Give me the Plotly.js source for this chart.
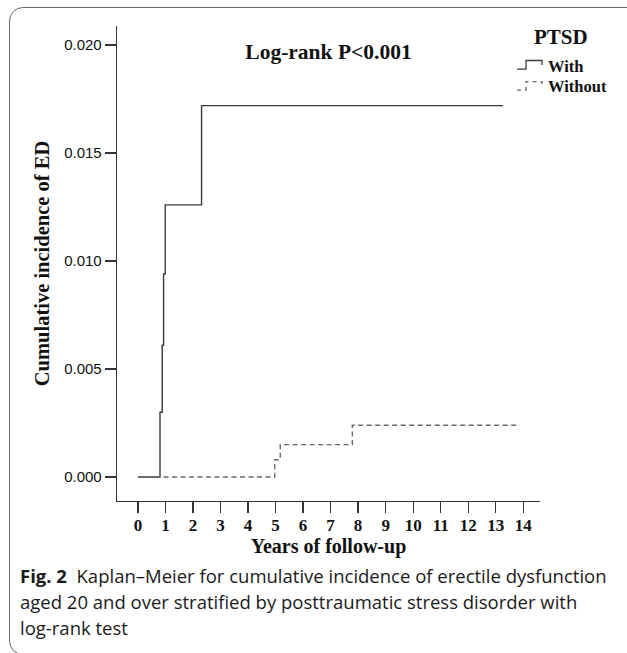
<!DOCTYPE html>
<html>
<head>
<meta charset="utf-8">
<script src="https://cdn.plot.ly/plotly-3.0.1.min.js"></script>
<style>
  html, body { margin: 0; padding: 0; background: #fff; }
  #wrap { position: relative; width: 627px; height: 653px; overflow: hidden; background: #fff; }
  #frame { position: absolute; left: 9px; top: 7px; width: 680px; height: 648px;
           border: 1.5px solid #666; border-radius: 14px; box-sizing: border-box; }
  #chart { position: absolute; left: 0; top: 0; width: 627px; height: 653px; }
</style>
</head>
<body>
<div id="wrap">
  <div id="frame"></div>
  <div id="chart"></div>
</div>
<script>
// ---- data ----
const withTime = [0, 0.80, 0.88, 0.93, 0.99, 2.31, 13.26];
const withInc  = [0, 0.0030, 0.0061, 0.0094, 0.0126, 0.0172, 0.0172];
const withoutTime = [0, 4.97, 5.17, 7.79, 13.88];
const withoutInc  = [0, 0.0008, 0.0015, 0.0024, 0.0024];
const xTicks = [0,1,2,3,4,5,6,7,8,9,10,11,12,13,14];
const yTicks = [0, 0.005, 0.010, 0.015, 0.020];
const seriesNames = ["With", "Without"];
const legendTitle = "PTSD";
const plotTitle = "Log-rank P<0.001";
const xTitle = "Years of follow-up";
const yTitle = "Cumulative incidence of ED";
const captionLines = [
  "<b>Fig. 2</b>  Kaplan–Meier for cumulative incidence of erectile dysfunction",
  "aged 20 and over stratified by posttraumatic stress disorder with",
  "log-rank test"
];

// ---- layout helpers (pixel -> paper) ----
const L = 117, R = 540, T = 26, B = 500.7;
const W = 627, H = 653;
const px = v => (v - L) / (R - L);
const py = v => (B - v) / (B - T);

const serif = "Liberation Serif, Times New Roman, serif";
const sans = "Liberation Sans, Arial, sans-serif";
const capFont = "Open Sans, Noto Sans, sans-serif";

const traces = [
  { x: withTime, y: withInc, name: seriesNames[0], type: "scatter", mode: "lines",
    line: { shape: "hv", color: "#3a3a3a", width: 1.4 }, hoverinfo: "skip" },
  { x: withoutTime, y: withoutInc, name: seriesNames[1], type: "scatter", mode: "lines",
    line: { shape: "hv", color: "#6a6a6a", width: 1.4, dash: "5px,3.5px" }, hoverinfo: "skip" }
];

function P(x, y) { return px(x).toFixed(5) + "," + py(y).toFixed(5); }

const shapes = [
  // legend symbol: With (step)
  { type: "path", xref: "paper", yref: "paper",
    path: "M" + P(517, 69) + " L" + P(526, 69) + " L" + P(526, 60.5) + " L" + P(542, 60.5) + " L" + P(542, 65),
    line: { color: "#3a3a3a", width: 1.3 } },
  // legend symbol: Without (dashed step)
  { type: "path", xref: "paper", yref: "paper",
    path: "M" + P(517, 90) + " L" + P(526, 90) + " L" + P(526, 81.5) + " L" + P(542, 81.5) + " L" + P(542, 86),
    line: { color: "#6a6a6a", width: 1.3, dash: "4px,4px" } }
];

const annotations = [
  { text: "<b>" + legendTitle + "</b>", xref: "paper", yref: "paper", x: px(561), y: py(37),
    xanchor: "center", yanchor: "middle", showarrow: false,
    font: { family: serif, size: 21, color: "#111" } },
  { text: "<b>" + seriesNames[0] + "</b>", xref: "paper", yref: "paper", x: px(546), y: py(66.5),
    xanchor: "left", yanchor: "middle", showarrow: false,
    font: { family: serif, size: 16.5, color: "#111" } },
  { text: "<b>" + seriesNames[1] + "</b>", xref: "paper", yref: "paper", x: px(546), y: py(86.5),
    xanchor: "left", yanchor: "middle", showarrow: false,
    font: { family: serif, size: 16.5, color: "#111" } }
];
const capY = [575, 601, 627];
captionLines.forEach((t, i) => {
  annotations.push({ text: t, xref: "paper", yref: "paper", x: px(18), y: py(capY[i]),
    xanchor: "left", yanchor: "middle", showarrow: false,
    font: { family: capFont, size: 18.5, color: "#1a1a1a" } });
});

const layout = {
  width: W, height: H,
  margin: { l: L, r: W - R, t: T, b: H - B, pad: 0 },
  paper_bgcolor: "rgba(0,0,0,0)", plot_bgcolor: "rgba(0,0,0,0)",
  showlegend: false,
  title: { text: "<b>" + plotTitle + "</b>", xref: "paper", yref: "paper", x: 0.5, xanchor: "center",
           y: py(51), yanchor: "middle", font: { family: serif, size: 21.5, color: "#111" } },
  xaxis: {
    range: [-0.763, 14.61], tickmode: "array", tickvals: xTicks, ticktext: xTicks.map(String),
    showgrid: false, zeroline: false, showline: true, linecolor: "#333", linewidth: 1.3,
    ticks: "outside", ticklen: 11, tickwidth: 1.3, tickcolor: "#333",
    ticklabelstandoff: -3,
    tickfont: { family: serif, size: 17, color: "#111", weight: "bold" },
    title: { text: "<b>" + xTitle + "</b>", standoff: 3, font: { family: serif, size: 20, color: "#111" } },
    fixedrange: true
  },
  yaxis: {
    range: [-0.00111, 0.020885], tickmode: "array", tickvals: yTicks, tickformat: ".3f",
    showgrid: false, zeroline: false, showline: true, linecolor: "#333", linewidth: 1.3,
    ticks: "outside", ticklen: 11, tickwidth: 1.3, tickcolor: "#333",
    tickfont: { family: sans, size: 15, color: "#111" },
    title: { text: "<b>" + yTitle + "</b>", standoff: 9, font: { family: serif, size: 20.5, color: "#111" } },
    fixedrange: true
  },
  shapes: shapes,
  annotations: annotations
};

Plotly.newPlot("chart", traces, layout, { displayModeBar: false, staticPlot: true });
</script>
</body>
</html>
